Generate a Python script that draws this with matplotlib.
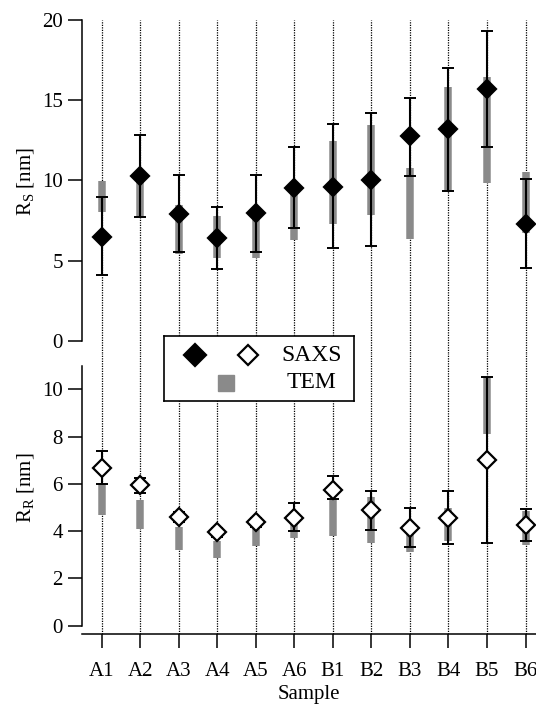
import matplotlib
matplotlib.use('Agg')
import matplotlib.pyplot as plt
import numpy as np

plt.rcParams['font.family'] = 'Liberation Serif'
plt.rcParams['mathtext.fontset'] = 'custom'
plt.rcParams['mathtext.rm'] = 'Liberation Serif'
plt.rcParams['mathtext.it'] = 'Liberation Serif:italic'

# data
samples = ['A1', 'A2', 'A3', 'A4', 'A5', 'A6', 'B1', 'B2', 'B3', 'B4', 'B5', 'B6']

# R_S (top panel)
rs_saxs = [6.5, 10.25, 7.9, 6.4, 7.95, 9.55, 9.6, 10.05, 12.75, 13.2, 15.7, 7.3]
rs_saxs_lo = [4.1, 7.7, 5.55, 4.5, 5.55, 7.05, 5.8, 5.9, 10.3, 9.35, 12.1, 4.55]
rs_saxs_hi = [8.95, 12.85, 10.35, 8.35, 10.35, 12.1, 13.5, 14.2, 15.15, 17.0, 19.3, 10.1]
rs_tem_lo = [8.05, 7.75, 5.45, 5.2, 5.15, 6.3, 7.3, 7.85, 6.35, 9.4, 9.85, 6.7]
rs_tem_hi = [9.95, 10.0, 8.45, 7.8, 8.0, 9.5, 12.45, 13.45, 10.75, 15.85, 16.45, 10.5]

# R_R (bottom panel)
rr_saxs = [6.67, 5.94, 4.58, 3.95, 4.37, 4.57, 5.74, 4.88, 4.15, 4.57, 7.01, 4.26]
rr_saxs_lo = [6.0, 5.63, 4.37, 3.77, 4.19, 3.99, 5.35, 4.05, 3.32, 3.44, 3.51, 3.60]
rr_saxs_hi = [7.40, 6.23, 4.80, 4.12, 4.54, 5.18, 6.33, 5.71, 4.99, 5.71, 10.53, 4.94]
rr_tem_lo = [4.70, 4.08, 3.20, 2.88, 3.37, 3.70, 3.79, 3.51, 3.10, 3.60, 8.10, 3.41]
rr_tem_hi = [6.05, 5.30, 4.19, 3.58, 4.12, 4.33, 5.32, 5.46, 3.93, 4.97, 10.53, 4.85]

gray = '#8a8a8a'
x = np.arange(len(samples))

fig = plt.figure(figsize=(5.36, 7.08), dpi=100)
W, H = 536, 708
left = 82.3 / W
ax1 = fig.add_axes([left, 1 - 353 / H, 1 - left, 333 / H])
ax2 = fig.add_axes([left, 1 - 634 / H, 1 - left, 281 / H])


def draw_panel(ax, saxs, lo, hi, tem_lo, tem_hi, face, ms):
    for xi in x:
        ax.axvline(xi, color='black', lw=0.9, ls=(0, (1, 1)), zorder=0)
    ax.vlines(x, tem_lo, tem_hi, color=gray, lw=5.4, zorder=1)
    saxs = np.array(saxs)
    yerr = [saxs - np.array(lo), np.array(hi) - saxs]
    ax.errorbar(x, saxs, yerr=yerr, fmt='none', ecolor='black',
                elinewidth=1.5, capsize=4.3, capthick=1.4, zorder=2)
    ax.plot(x, saxs, 'D', ms=ms, mfc=face, mec='black', mew=1.6,
            ls='none', zorder=3)


draw_panel(ax1, rs_saxs, rs_saxs_lo, rs_saxs_hi, rs_tem_lo, rs_tem_hi, 'black', 9.5)
draw_panel(ax2, rr_saxs, rr_saxs_lo, rr_saxs_hi, rr_tem_lo, rr_tem_hi, 'white', 9)

for ax in (ax1, ax2):
    ax.set_xlim(-0.5, 11.27)
    ax.spines['top'].set_visible(False)
    ax.spines['right'].set_visible(False)
    ax.spines['left'].set_linewidth(1.1)
    ax.spines['bottom'].set_linewidth(1.1)
    ax.tick_params(direction='out', length=10, width=1.1, labelsize=15,
                   colors='black')
    ax.patch.set_visible(False)

ax1.set_ylim(-0.748, 20)
ax1.spines['bottom'].set_visible(False)
ax1.spines['left'].set_bounds(0, 20)
ax1.set_yticks([0, 5, 10, 15, 20])
ax1.tick_params(axis='x', bottom=False, labelbottom=False)
ax1.tick_params(axis='y', pad=4)

ax2.set_ylim(-0.351, 11.535)
ax2.spines['left'].set_bounds(0, 11)
ax2.set_yticks([0, 2, 4, 6, 8, 10])
ax2.set_xticks(x)
ax2.set_xticklabels(samples)
ax2.tick_params(axis='x', pad=10)
ax2.tick_params(axis='y', pad=4)

ax1.set_ylabel('R$_\\mathrm{S}$ [nm]', fontsize=15)
ax2.set_ylabel('R$_\\mathrm{R}$ [nm]', fontsize=15)
ax1.yaxis.set_label_coords(-0.101, 0.514)
ax2.yaxis.set_label_coords(-0.101, 0.521)
ax2.set_xlabel('Sample', fontsize=15, labelpad=3)

# legend box spanning both panels
lax = fig.add_axes([164 / W, 1 - 400.7 / H, 190.3 / W, 64.7 / H])
lax.set_xlim(0, 1)
lax.set_ylim(0, 1)
lax.set_xticks([])
lax.set_yticks([])
for s in lax.spines.values():
    s.set_linewidth(1.2)
lax.plot([0.163], [0.706], 'D', ms=11, mfc='black', mec='black', mew=1.6)
lax.plot([0.443], [0.706], 'D', ms=10, mfc='white', mec='black', mew=1.6)
lax.plot([0.324], [0.278], 's', ms=11, mfc=gray, mec=gray)
lax.text(0.776, 0.706, 'SAXS', fontsize=17, ha='center', va='center')
lax.text(0.776, 0.278, 'TEM', fontsize=17, ha='center', va='center')

fig.savefig('out.png', dpi=100)
